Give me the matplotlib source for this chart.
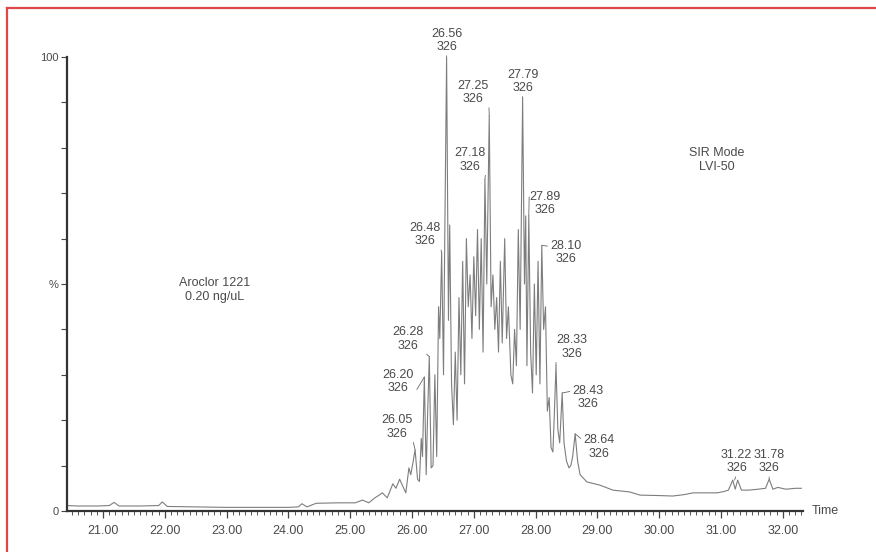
"""SIR chromatogram of Aroclor 1221 with labelled congener peaks"""
import matplotlib
matplotlib.use("Agg")
import matplotlib.pyplot as plt
from matplotlib.lines import Line2D
from matplotlib.ticker import MultipleLocator, FixedLocator

plt.rcParams["font.family"] = ["Liberation Sans", "DejaVu Sans"]

# retention time (min) and relative abundance (%)
rt = [20.42, 20.60, 20.90, 21.10, 21.18, 21.26, 21.60, 21.90, 21.96, 22.04,
      22.50, 23.00, 23.50, 24.00, 24.16, 24.22, 24.30, 24.45, 24.80, 25.08,
      25.20, 25.30, 25.40, 25.48, 25.52, 25.60, 25.69, 25.74, 25.80, 25.85,
      25.90, 25.95, 25.98, 26.02, 26.05, 26.09, 26.12, 26.15, 26.17, 26.20,
      26.23, 26.25, 26.28, 26.31, 26.34, 26.37, 26.40, 26.43, 26.45, 26.48,
      26.51, 26.53, 26.56, 26.59, 26.61, 26.64, 26.67, 26.70, 26.73, 26.76,
      26.79, 26.82, 26.85, 26.88, 26.91, 26.94, 26.97, 27.00, 27.03, 27.06,
      27.09, 27.12, 27.15, 27.18, 27.21, 27.25, 27.28, 27.31, 27.34, 27.37,
      27.40, 27.43, 27.46, 27.50, 27.53, 27.56, 27.60, 27.63, 27.66, 27.69,
      27.72, 27.75, 27.79, 27.82, 27.84, 27.86, 27.89, 27.92, 27.95, 27.98,
      28.01, 28.04, 28.07, 28.10, 28.13, 28.16, 28.19, 28.22, 28.25, 28.28,
      28.30, 28.33, 28.36, 28.39, 28.43, 28.46, 28.50, 28.54, 28.57, 28.60,
      28.64, 28.68, 28.72, 28.83, 29.04, 29.25, 29.52, 29.69, 30.00, 30.22,
      30.40, 30.55, 30.80, 30.94, 31.05, 31.12, 31.19, 31.23, 31.27, 31.33,
      31.45, 31.60, 31.72, 31.78, 31.84, 31.92, 32.05, 32.20, 32.30]
abundance = [1.2, 1.1, 1.1, 1.2, 1.9, 1.1, 1.1, 1.2, 2.0, 1.0,
             0.9, 0.8, 0.8, 0.8, 0.9, 1.6, 0.9, 1.7, 1.8, 1.8,
             2.4, 1.8, 2.9, 3.6, 4.0, 2.9, 6.0, 5.0, 7.0, 5.5,
             4.0, 9.5, 8.0, 11.0, 13.5, 7.0, 6.5, 16.0, 12.0, 29.5,
             8.0, 20.0, 34.0, 9.5, 10.0, 30.0, 12.0, 45.0, 38.0, 57.0,
             30.0, 60.0, 100.0, 42.0, 63.0, 28.0, 19.0, 35.0, 20.0, 47.0,
             30.0, 55.0, 28.0, 60.0, 45.0, 52.0, 38.0, 56.0, 43.0, 62.0,
             40.0, 60.0, 35.0, 73.0, 50.0, 87.0, 45.0, 52.0, 40.0, 47.0,
             35.0, 55.0, 37.0, 60.0, 38.0, 45.0, 30.0, 28.0, 40.0, 32.0,
             62.0, 40.0, 91.0, 50.0, 65.0, 32.0, 65.0, 35.0, 26.0, 50.0,
             30.0, 55.0, 28.0, 58.5, 40.0, 45.0, 22.0, 25.0, 14.0, 13.0,
             20.0, 32.0, 18.0, 15.0, 26.0, 15.0, 11.0, 9.5, 10.0, 12.0,
             17.0, 11.0, 8.0, 6.4, 5.7, 4.6, 4.2, 3.5, 3.4, 3.3,
             3.6, 4.0, 4.0, 4.0, 4.3, 4.6, 6.8, 4.8, 6.8, 4.6,
             4.6, 4.8, 5.0, 7.0, 4.8, 5.2, 4.8, 5.0, 5.0]

# labelled peaks: retention time, height (%), label offset in pixels
peak_rt = [26.56, 27.25, 27.79, 27.18, 26.48, 27.89, 28.10, 26.28,
           26.20, 26.05, 28.33, 28.43, 28.64, 31.22, 31.78]
peak_height = [100.0, 87.0, 91.0, 73.0, 57.0, 65.0, 58.5, 34.0,
               29.5, 13.5, 32.0, 26.0, 17.0, 6.8, 7.0]
peak_mass = ["326"] * len(peak_rt)
label_offset = [(0, 4), (-16, 11), (0, 4), (-15, 7), (-17, 5), (16, 0),
                (24, -20), (-21, 5), (-26, -17), (-18, 10), (16, 6),
                (26, -17), (24, -26), (2, 6), (0, 5)]

x_ticks = [21, 22, 23, 24, 25, 26, 27, 28, 29, 30, 31, 32]
x_tick_labels = [f"{t:.2f}" for t in x_ticks]

ink = "#4a4a4a"
trace_col = "#7d7d7d"
fs = 9

fig = plt.figure(figsize=(8.76, 5.52), dpi=100)
fig.patch.set_facecolor("white")
ax = fig.add_axes([67 / 876, 41 / 552, 736 / 876, 454 / 552])

ax.plot(rt, abundance, color=trace_col, lw=0.8)

ax.set_xlim(20.4175, 32.327)
ax.set_ylim(0, 100)

for side in ("top", "right"):
    ax.spines[side].set_visible(False)
for side in ("left", "bottom"):
    ax.spines[side].set_linewidth(1.6)
    ax.spines[side].set_color("#333333")

ax.set_xticks(x_ticks)
ax.set_xticklabels(x_tick_labels)
ax.xaxis.set_minor_locator(MultipleLocator(0.1))
ax.set_yticks([0, 50, 100])
ax.set_yticklabels(["0", "%", "100"])
ax.yaxis.set_minor_locator(FixedLocator([10, 20, 30, 40, 60, 70, 80, 90]))
ax.tick_params(axis="x", which="major", length=5, width=0.9, color="#444444",
               labelsize=fs, labelcolor=ink, pad=5)
ax.tick_params(axis="x", which="minor", length=3, width=0.7, color="#555555")
ax.tick_params(axis="y", which="both", length=4, width=0.8, color="#444444",
               labelsize=fs - 1, labelcolor=ink, pad=2)

ax.text(1.012, 0, "Time", transform=ax.transAxes, ha="left", va="center",
        fontsize=fs, color=ink)

for t, h, m, (dx, dy) in zip(peak_rt, peak_height, peak_mass, label_offset):
    rel = (1, 0) if dx < -5 else ((0, 0.75) if dx > 5 else (0.5, 0))
    ax.annotate(f"{t:.2f}\n{m}", xy=(t, h), xytext=(dx, dy),
                textcoords="offset pixels", ha="center", va="bottom",
                fontsize=fs, color=ink, linespacing=1.15,
                arrowprops=dict(arrowstyle="-", color="#666666", lw=0.6,
                                shrinkA=0, shrinkB=0, relpos=rel))

fig.text(215 / 876, 1 - 290 / 552, "Aroclor 1221\n0.20 ng/uL", ha="center",
         va="center", fontsize=fs, color=ink, linespacing=1.3)
fig.text(717 / 876, 1 - 160 / 552, "SIR Mode\nLVI-50", ha="center",
         va="center", fontsize=fs, color=ink, linespacing=1.3)

# red frame along the left and top edges
red = "#e04848"
fig.add_artist(Line2D([7 / 876, 7 / 876], [0, 1 - 8 / 552], color=red, lw=1.6))
fig.add_artist(Line2D([7 / 876, 1], [1 - 8 / 552, 1 - 8 / 552], color=red, lw=1.6))

fig.savefig("out.png", dpi=100)
